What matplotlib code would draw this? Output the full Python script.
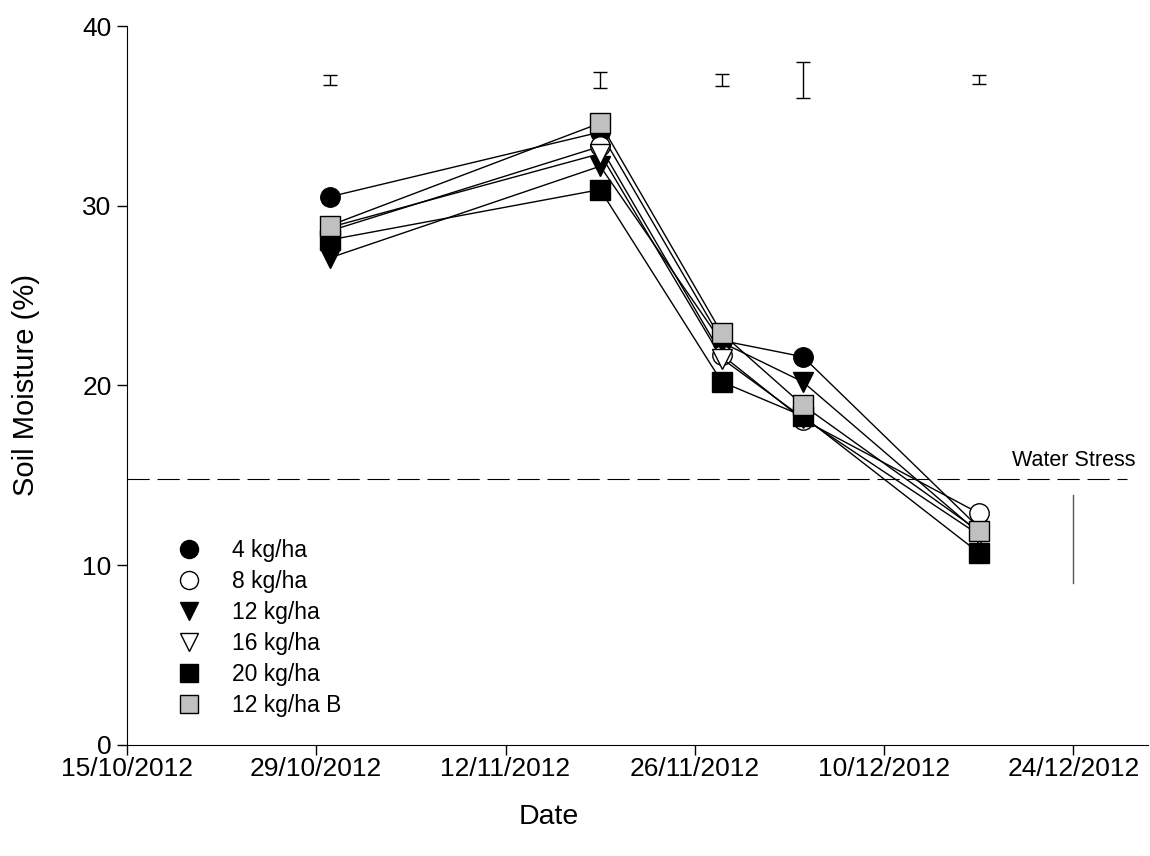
import numpy as np
import pandas as pd
import matplotlib
matplotlib.use("Agg")
import matplotlib.pyplot as plt
import matplotlib.dates as mdates
from matplotlib.lines import Line2D

plt.rcParams['font.family'] = ['Liberation Sans', 'DejaVu Sans']

# sampling dates and soil moisture (%) per seeding rate
dates = pd.to_datetime(['2012-10-30', '2012-11-19', '2012-11-28', '2012-12-04', '2012-12-17'])
kg4 = [30.5, 34.1, 22.5, 21.6, 12.1]
kg8 = [28.6, 33.3, 21.7, 18.1, 12.9]
kg12 = [27.1, 32.2, 22.4, 20.2, 11.8]
kg16 = [28.8, 32.9, 21.5, 18.2, 11.7]
kg20 = [28.1, 30.9, 20.2, 18.3, 10.7]
kg12b = [28.9, 34.6, 22.9, 18.9, 11.9]

# LSD bars drawn at the top of the chart
lsd_y = [37.0, 37.0, 37.0, 37.0, 37.0]
lsd_half = [0.3, 0.45, 0.35, 1.0, 0.25]

water_stress = 14.8
stress_bar = [9.0, 13.9]

xtick_dates = pd.date_range('2012-10-15', '2012-12-24', freq='14D')

series = [
    ('4 kg/ha', kg4, 'o', 'black'),
    ('8 kg/ha', kg8, 'o', 'white'),
    ('12 kg/ha', kg12, 'v', 'black'),
    ('16 kg/ha', kg16, 'v', 'white'),
    ('20 kg/ha', kg20, 's', 'black'),
    ('12 kg/ha B', kg12b, 's', '#c0c0c0'),
]

fig = plt.figure(figsize=(11.5, 8.56), dpi=100)
ax = fig.add_axes([0.1104, 0.1297, 0.8876, 0.8399])

handles = []
for label, vals, mk, fc in series:
    ax.plot(dates, vals, color='black', lw=1.0, marker=mk, markersize=14,
            markerfacecolor=fc, markeredgecolor='black', markeredgewidth=1.0)
    handles.append(Line2D([], [], ls='none', marker=mk, markersize=13,
                          markerfacecolor=fc, markeredgecolor='black',
                          markeredgewidth=1.0, label=label))

ax.errorbar(dates, lsd_y, yerr=lsd_half, fmt='none', ecolor='black',
            elinewidth=1.0, capsize=5, capthick=1.0)

x0 = pd.Timestamp('2012-10-15')
x1 = x0 + pd.Timedelta(days=75.5)
ax.plot([x0, x0 + pd.Timedelta(days=74)], [water_stress, water_stress],
        color='black', lw=0.8, dashes=(20, 7))
ax.text(pd.Timestamp('2012-12-24') + pd.Timedelta(days=4.6), water_stress + 0.45,
        'Water Stress', ha='right', va='bottom', fontsize=15.5)
ax.plot([pd.Timestamp('2012-12-24')] * 2, stress_bar, color='#555555', lw=1.0)

ax.set_xlim(x0, x1)
ax.set_ylim(0, 40)
ax.set_xticks(xtick_dates)
ax.xaxis.set_major_formatter(mdates.DateFormatter('%d/%m/%Y'))
ax.set_yticks([0, 10, 20, 30, 40])
ax.tick_params(direction='out', length=7, width=1, labelsize=19, pad=4)
ax.tick_params(axis='x', pad=2)
ax.spines['top'].set_visible(False)
ax.spines['right'].set_visible(False)
ax.set_xlabel('Date', fontsize=20.5)
ax.xaxis.set_label_coords(0.413, -0.082)
ax.set_ylabel('Soil Moisture (%)', fontsize=21)
ax.yaxis.set_label_coords(-0.085, 0.5)

ax.legend(handles=handles, loc='lower left', bbox_to_anchor=(0.027, 0.01),
          frameon=False, fontsize=16.5, handlelength=1.2, handletextpad=1.3,
          labelspacing=0.35)

fig.savefig('out.png', dpi=100)
